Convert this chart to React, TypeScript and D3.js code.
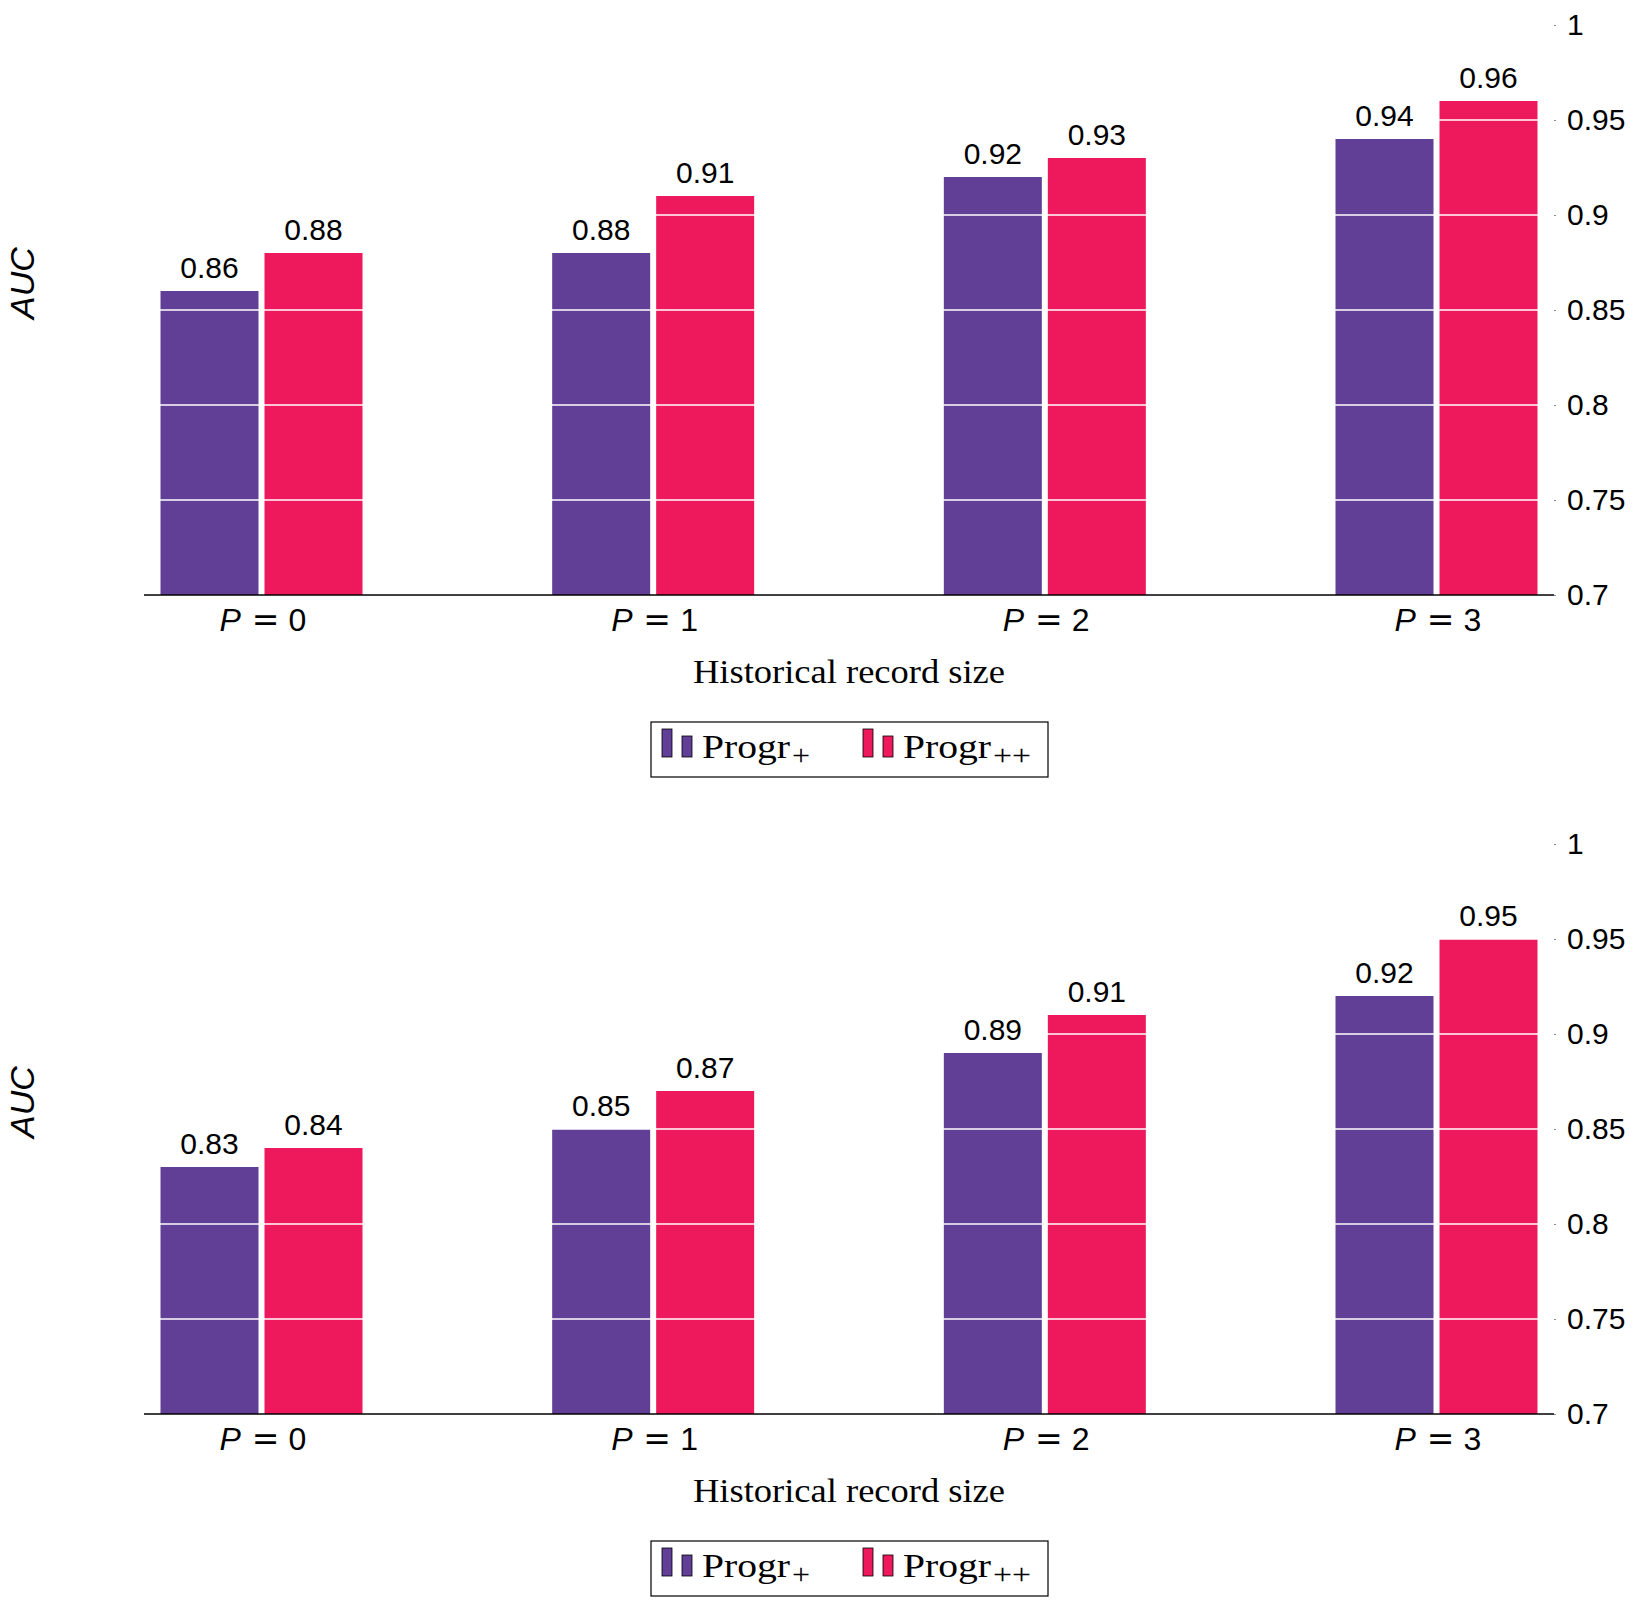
import { useEffect, useRef } from 'react';
import * as d3 from 'd3';

const categories = ['0', '1', '2', '3'];
const seriesNames = ['Progr', 'Progr'];
const seriesSubs = ['+', '++'];
const seriesColors = ['#623f97', '#ee185c'];

// top panel
const topPlus = [0.86, 0.88, 0.92, 0.94];
const topPlusPlus = [0.88, 0.91, 0.93, 0.96];
// bottom panel
const bottomPlus = [0.83, 0.85, 0.89, 0.92];
const bottomPlusPlus = [0.84, 0.87, 0.91, 0.95];

const yTicks = [0.7, 0.75, 0.8, 0.85, 0.9, 0.95, 1];
const yTickLabels = ['0.7', '0.75', '0.8', '0.85', '0.9', '0.95', '1'];

const WIDTH = 1644;
const HEIGHT = 1615;
const PANEL_OFFSET = 819;

const sans = '"Liberation Sans", Arial, sans-serif';
const serif = '"Liberation Serif", "DejaVu Serif", serif';

export default function App() {
    const svgRef = useRef<SVGSVGElement>(null);

    useEffect(() => {
        document.body.style.margin = '0';
        if (!svgRef.current) return;

        const svg = d3.select(svgRef.current);
        svg.selectAll('*').remove();

        const plotLeft = 144;
        const plotRight = 1554;
        const plotTop = 25;
        const plotBottom = 595;
        const barWidth = 98;
        const barGap = 6;

        const xScale = d3.scalePoint<string>()
            .domain(categories)
            .range([plotLeft, plotRight])
            .padding(0.3);

        const yScale = d3.scaleLinear()
            .domain([0.7, 1])
            .range([plotBottom, plotTop]);

        const panels = [
            { values: [topPlus, topPlusPlus], dy: 0 },
            { values: [bottomPlus, bottomPlusPlus], dy: PANEL_OFFSET }
        ];

        panels.forEach(panel => {
            const g = svg.append('g').attr('transform', `translate(0,${panel.dy})`);
            const offsetOf = (s: number) => (s === 0 ? -barGap / 2 - barWidth : barGap / 2);

            // barras
            panel.values.forEach((vals, s) => {
                g.selectAll(`.bar-${s}`)
                    .data(vals)
                    .enter()
                    .append('rect')
                    .attr('x', (_d, i) => (xScale(categories[i]) || 0) + offsetOf(s))
                    .attr('y', d => yScale(d))
                    .attr('width', barWidth)
                    .attr('height', d => plotBottom - yScale(d))
                    .attr('fill', seriesColors[s]);
            });

            // grid branco por cima das barras (só aparece sobre as barras)
            g.selectAll('.grid')
                .data(yTicks.slice(1, -1))
                .enter()
                .append('line')
                .attr('x1', plotLeft)
                .attr('x2', plotRight)
                .attr('y1', d => yScale(d))
                .attr('y2', d => yScale(d))
                .attr('stroke', 'white')
                .attr('stroke-width', 1.5);

            // rótulos dos valores
            panel.values.forEach((vals, s) => {
                g.selectAll(`.label-${s}`)
                    .data(vals)
                    .enter()
                    .append('text')
                    .attr('x', (_d, i) => (xScale(categories[i]) || 0) + offsetOf(s) + barWidth / 2)
                    .attr('y', d => yScale(d) - 13)
                    .attr('text-anchor', 'middle')
                    .style('font-family', sans)
                    .style('font-size', '30px')
                    .text(d => d.toFixed(2));
            });

            // eixo X
            g.append('line')
                .attr('x1', plotLeft)
                .attr('x2', plotRight)
                .attr('y1', plotBottom)
                .attr('y2', plotBottom)
                .attr('stroke', 'black')
                .attr('stroke-width', 1.5);

            categories.forEach(c => {
                const cx = xScale(c) || 0;
                const tg = g.append('g')
                    .style('font-family', sans)
                    .style('font-size', '32px');
                tg.append('text')
                    .attr('x', cx - 42)
                    .attr('y', plotBottom + 36)
                    .style('font-style', 'italic')
                    .text('P');
                tg.append('text')
                    .attr('x', cx + 4)
                    .attr('y', plotBottom + 36)
                    .attr('text-anchor', 'middle')
                    .style('font-family', '"DejaVu Sans", sans-serif')
                    .style('font-size', '33px')
                    .text('=');
                tg.append('text')
                    .attr('x', cx + 27)
                    .attr('y', plotBottom + 36)
                    .text(c);
            });

            // eixo Y à direita
            const yAxis = g.append('g')
                .attr('transform', `translate(${plotRight},0)`)
                .call(d3.axisRight(yScale)
                    .tickValues(yTicks)
                    .tickFormat((_d, i) => yTickLabels[i])
                    .tickSize(2)
                    .tickPadding(11));
            yAxis.select('.domain').remove();
            yAxis.selectAll('line').attr('stroke', '#888');
            yAxis.selectAll('text')
                .style('font-family', sans)
                .style('font-size', '30px')
                .attr('fill', 'black');

            // títulos
            g.append('text')
                .attr('transform', `translate(34,283) rotate(-90)`)
                .attr('text-anchor', 'middle')
                .style('font-family', sans)
                .style('font-style', 'italic')
                .style('font-size', '34px')
                .text('AUC');

            g.append('text')
                .attr('x', 849)
                .attr('y', 683)
                .attr('text-anchor', 'middle')
                .attr('textLength', 312)
                .attr('lengthAdjust', 'spacingAndGlyphs')
                .style('font-family', serif)
                .style('font-size', '34px')
                .text('Historical record size');

            // legenda
            const legend = g.append('g').attr('transform', 'translate(651,722)');
            legend.append('rect')
                .attr('width', 397)
                .attr('height', 55)
                .attr('fill', 'white')
                .attr('stroke', 'black')
                .attr('stroke-width', 1.2);

            seriesNames.forEach((name, s) => {
                const lx = 11 + s * 201;
                legend.append('rect')
                    .attr('x', lx).attr('y', 7).attr('width', 10).attr('height', 28)
                    .attr('fill', seriesColors[s]).attr('stroke', 'black').attr('stroke-width', 0.8);
                legend.append('rect')
                    .attr('x', lx + 20).attr('y', 14).attr('width', 10).attr('height', 21)
                    .attr('fill', seriesColors[s]).attr('stroke', 'black').attr('stroke-width', 0.8);
                legend.append('text')
                    .attr('x', lx + 40)
                    .attr('y', 36)
                    .attr('textLength', 88)
                    .attr('lengthAdjust', 'spacingAndGlyphs')
                    .style('font-family', serif)
                    .style('font-size', '34px')
                    .text(name);
                legend.append('text')
                    .attr('x', lx + 130)
                    .attr('y', 43)
                    .attr('textLength', s === 0 ? 18 : 38)
                    .attr('lengthAdjust', 'spacingAndGlyphs')
                    .style('font-family', serif)
                    .style('font-size', '30px')
                    .text(seriesSubs[s]);
            });
        });
    }, []);

    return (
        <svg
            ref={svgRef}
            width={WIDTH}
            height={HEIGHT}
            style={{ display: 'block', background: 'white' }}
        />
    );
}
